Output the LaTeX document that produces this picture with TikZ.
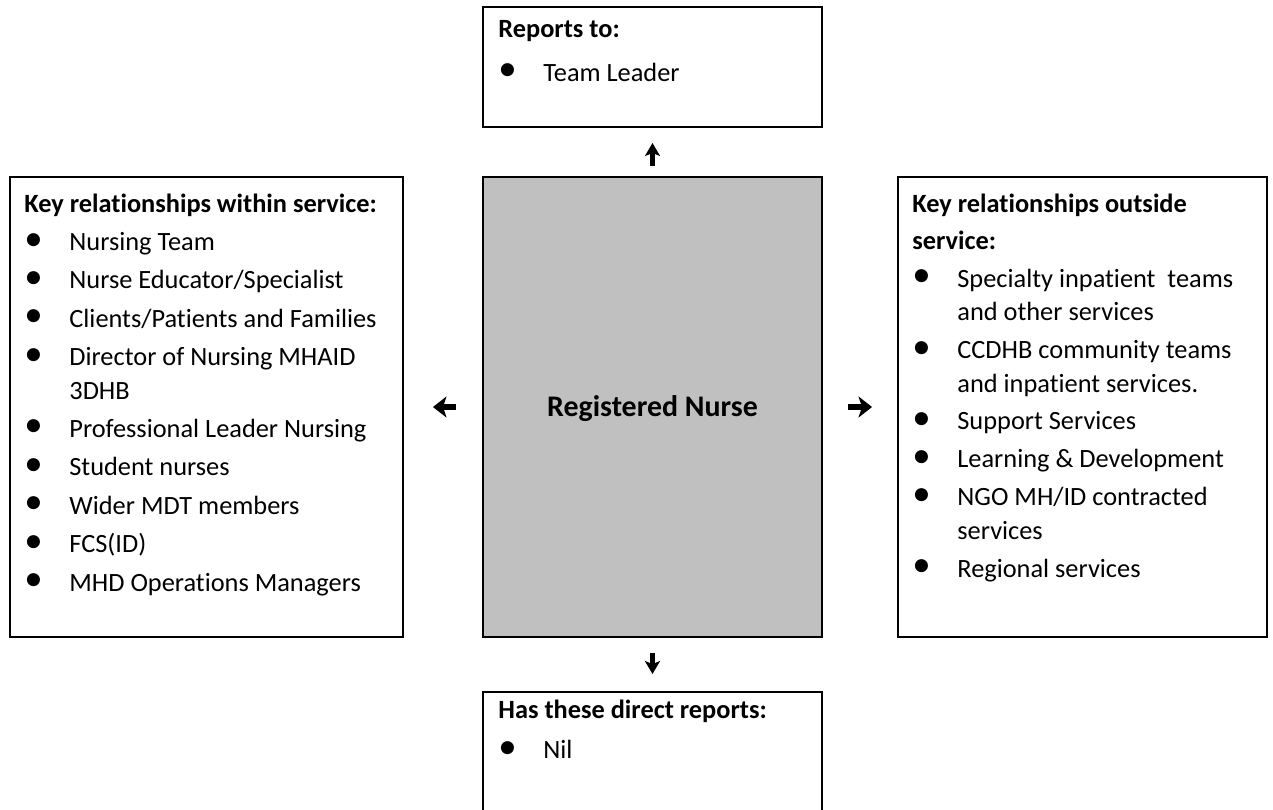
\documentclass[tikz,border=0pt]{standalone}
\usepackage{fontspec}
\setmainfont{Carlito}[Ligatures=NoCommon]
\usetikzlibrary{arrows.meta}

\definecolor{nursegray}{HTML}{C0C0C0}
\newcommand{\itm}{\makebox[0.9cm][l]{\raisebox{0.02em}{\scalebox{1.4}{\textbullet}}}}
\newcommand{\cont}{\hspace*{0.9cm}}

\begin{document}
\begin{tikzpicture}[
    box/.style={draw, line width=1.1pt, minimum width=6.78cm, inner sep=0pt},
    txt/.style={anchor=base west, align=left, inner sep=0pt, font=\fontsize{15}{19}\selectfont},
    arr/.style={line width=3pt, -{Stealth[length=0.27cm, width=0.42cm, inset=0.07cm]}},
    varr/.style={line width=3pt, -{Stealth[length=0.26cm, width=0.3cm, inset=0.06cm]}}
  ]
    \useasboundingbox (0,0) rectangle (25.46,-16.18);

    \node(reports_box) at (13.05,-1.34) [box, minimum height=2.4cm] {};
    \node(nurse_box) at (13.05,-8.14) [box, fill=nursegray, minimum height=9.2cm] {};
    \node(direct_box) at (13.05,-15.14) [box, minimum height=2.6cm] {};
    \node(within_box) at (4.13,-8.14) [box, minimum width=7.86cm, minimum height=9.2cm] {};
    \node(outside_box) at (21.65,-8.14) [box, minimum width=7.38cm, minimum height=9.2cm] {};

    \node(nurse_txt) at ([yshift=-0.19cm]nurse_box.center) [anchor=base, font=\fontsize{17}{19}\selectfont\bfseries] {Registered Nurse};

    % text blocks hang from their last baseline
    \node(reports_txt) at ([xshift=0.32cm, yshift=-1.5cm]reports_box.north west) [txt] {%
        \textbf{Reports to:}\\[0.2cm]
        \itm Team Leader};
    \node(direct_txt) at ([xshift=0.32cm, yshift=-1.35cm]direct_box.north west) [txt] {%
        \textbf{Has these direct reports:}\\[0.13cm]
        \itm Nil};
    \node(within_txt) at ([xshift=0.3cm, yshift=-8.3cm]within_box.north west) [txt] {%
        \textbf{Key relationships within service:}\\[0.1cm]
        \itm Nursing Team\\[0.1cm]
        \itm Nurse Educator/Specialist\\[0.1cm]
        \itm Clients/Patients and Families\\[0.1cm]
        \itm Director of Nursing MHAID\\
        \cont 3DHB\\[0.1cm]
        \itm Professional Leader Nursing\\[0.1cm]
        \itm Student nurses\\[0.1cm]
        \itm Wider MDT members\\[0.1cm]
        \itm FCS(ID)\\[0.1cm]
        \itm MHD Operations Managers};
    \node(outside_txt) at ([xshift=0.3cm, yshift=-8.02cm]outside_box.north west) [txt] {%
        \textbf{Key relationships outside}\\[0.07cm]
        \textbf{service:}\\[0.09cm]
        \itm Specialty inpatient\ \ teams\\
        \cont and other services\\[0.09cm]
        \itm CCDHB community teams\\
        \cont and inpatient services.\\[0.09cm]
        \itm Support Services\\[0.09cm]
        \itm Learning \& Development\\[0.09cm]
        \itm NGO MH/ID contracted\\
        \cont services\\[0.09cm]
        \itm Regional services};

    \draw[varr, shorten <=0.2cm, shorten >=0.3cm] (nurse_box) -- (reports_box);
    \draw[varr, shorten <=0.3cm, shorten >=0.34cm] (nurse_box) -- (direct_box);
    \draw[arr, shorten <=0.52cm, shorten >=0.58cm] (nurse_box) -- (within_box);
    \draw[arr, shorten <=0.5cm, shorten >=0.5cm] (nurse_box) -- (outside_box);
\end{tikzpicture}
\end{document}
